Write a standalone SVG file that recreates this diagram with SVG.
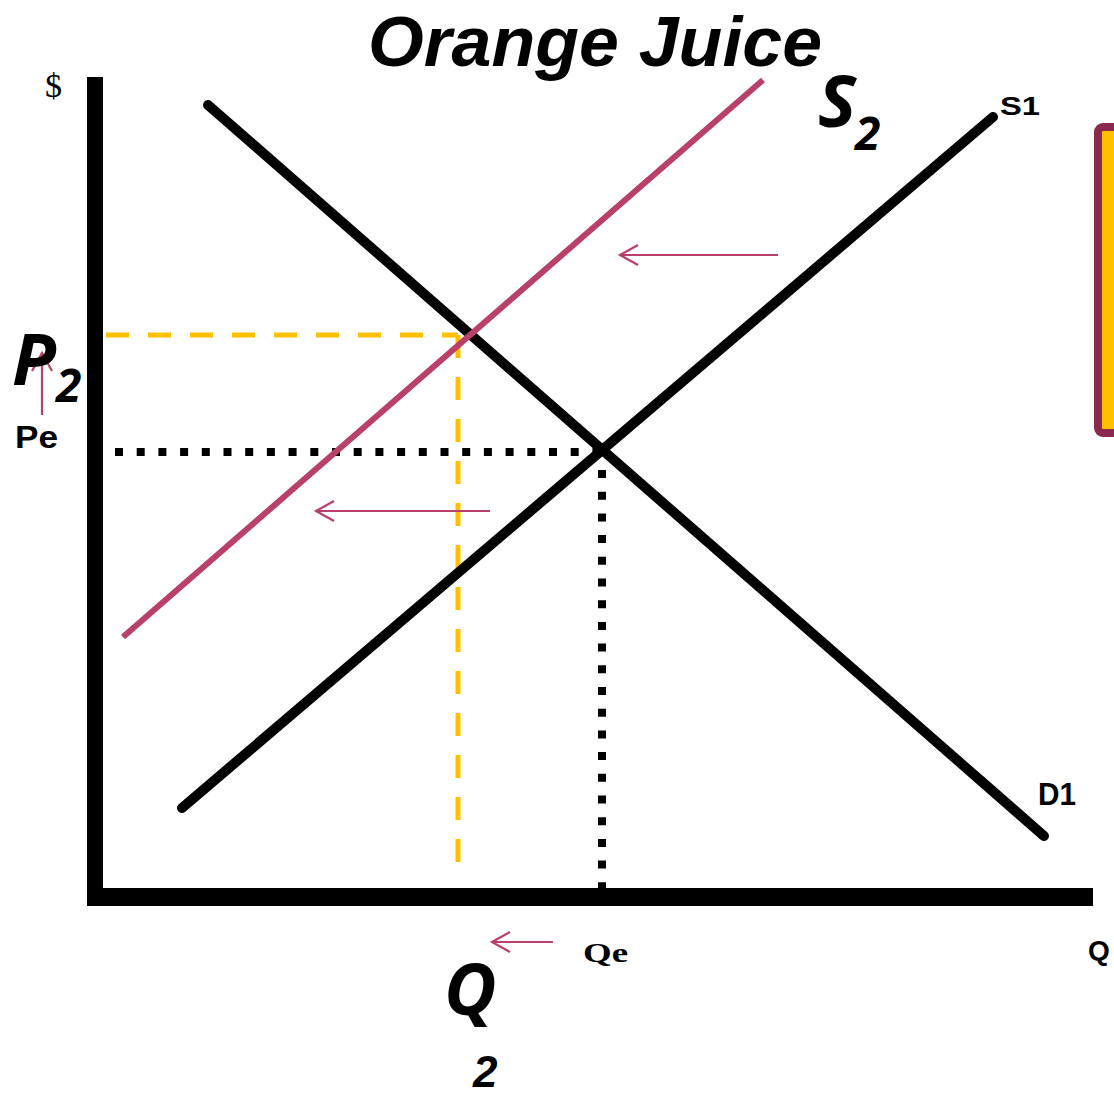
<svg xmlns="http://www.w3.org/2000/svg" width="1114" height="1097" viewBox="0 0 1114 1097">
<style>
.curve{stroke:#000;stroke-width:10;stroke-linecap:round;fill:none}
.shift{stroke:#B94068;stroke-width:2.2;fill:none}
.dot{stroke:#000;stroke-width:8;stroke-dasharray:8 13.7;fill:none}
.dash{stroke:#FFC000;stroke-width:5;stroke-dasharray:23 19;fill:none}
.lbl{font-family:"Liberation Sans",Arial,sans-serif;font-weight:bold;fill:#000}
.big{font-family:"Open Sans","DejaVu Sans",sans-serif;font-weight:bold;font-style:italic;fill:#000}
.title{font-family:"Liberation Sans",Arial,sans-serif;font-weight:bold;font-style:italic;fill:#000}
</style>
<defs>
<marker id="open" markerWidth="22" markerHeight="24" refX="19" refY="12" orient="auto" markerUnits="userSpaceOnUse">
<path d="M1 2 L19 12 L1 22" fill="none" stroke="#B94068" stroke-width="2.2"/>
</marker>
</defs>
<rect width="1114" height="1097" fill="#fff"/>
<g id="axes">
<rect x="87" y="77" width="16" height="829" fill="#000"/>
<rect x="87" y="888" width="1006" height="18" fill="#000"/>
</g>
<g id="guides">
<path class="dot" d="M115 452 H602"/>
<path class="dot" d="M602 470 V893"/>
<path class="dash" d="M106 335 H458"/>
<path class="dash" d="M458 335 V863"/>
</g>
<g id="connectors">
<path id="D1-line" class="curve" d="M208 105 L1044 836"/>
<path id="S1-line" class="curve" d="M182 808 L993 117"/>
<path id="S2-line" d="M123 637 L763 80" stroke="#B94068" stroke-width="6" fill="none"/>
<path class="shift" d="M778 255 H620" marker-end="url(#open)"/>
<path class="shift" d="M490 511 H316" marker-end="url(#open)"/>
<path class="shift" d="M553 942 H492" marker-end="url(#open)"/>
<path class="shift" d="M42 415 V353" marker-end="url(#open)"/>
</g>
<g id="box">
<rect x="1098" y="127" width="40" height="306" rx="5" fill="#FFC000" stroke="#8B2A4E" stroke-width="8"/>
</g>
<g id="labels">
<text x="368" y="66" class="title" font-size="71" textLength="454" lengthAdjust="spacingAndGlyphs">Orange Juice</text>
<text x="45" y="97" font-family="'Liberation Serif',serif" font-size="34">$</text>
<text x="1000" y="115" class="lbl" font-size="26" textLength="40" lengthAdjust="spacingAndGlyphs">S1</text>
<text x="1038" y="805" class="lbl" font-size="31" textLength="38" lengthAdjust="spacingAndGlyphs">D1</text>
<text x="1088" y="960" class="lbl" font-size="28">Q</text>
<text x="583" y="962" font-family="'Liberation Serif',serif" font-weight="bold" font-size="28" textLength="45" lengthAdjust="spacingAndGlyphs">Qe</text>
<text x="15" y="448" class="lbl" font-size="32" textLength="43" lengthAdjust="spacingAndGlyphs">Pe</text>
<text x="12" y="385" class="big" font-size="72">P</text>
<text x="56" y="402" class="big" font-size="46">2</text>
<text x="818" y="127" class="big" font-size="72" font-style="normal">S</text>
<text x="855" y="150" class="big" font-size="46" font-style="normal">2</text>
<text x="444" y="1015" class="big" font-size="72">Q</text>
<text x="473" y="1087" class="title" font-size="44">2</text>
</g>
</svg>
